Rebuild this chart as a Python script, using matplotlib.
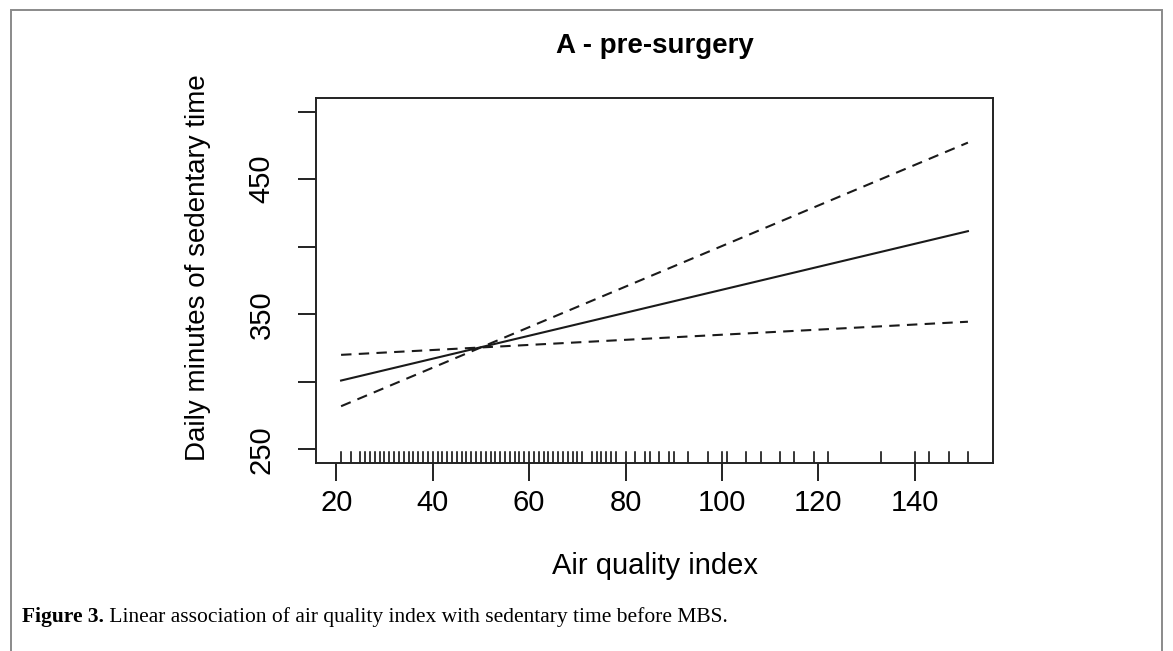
"""Figure 3, panel A: air quality index vs daily sedentary minutes (pre-surgery)."""

import matplotlib
matplotlib.use("Agg")
import matplotlib.pyplot as plt
from matplotlib.patches import Rectangle

plt.rcParams["font.family"] = ["Liberation Sans", "DejaVu Sans"]

# fitted line and confidence bounds at both ends of the AQI range
aqi_ends = [21, 151]
fit_ends = [301.0, 411.5]
bound_flat = [320.0, 344.5]
bound_steep = [282.0, 477.0]

# observed AQI values (rug)
rug_aqi = [21, 23, 25, 26, 27, 28, 29, 30, 31, 32, 33, 34, 35, 36, 37, 38,
           39, 40, 41, 42, 43, 44, 45, 46, 47, 48, 49, 50, 51, 52, 53, 54,
           55, 56, 57, 58, 59, 60, 61, 62, 63, 64, 65, 66, 67, 68, 69, 70,
           71, 73, 74, 75, 76, 77, 78, 80, 82, 84, 85, 87, 89, 90, 93, 97,
           100, 101, 105, 108, 112, 115, 119, 122, 133, 140, 143, 147, 151]

x_ticks = [20, 40, 60, 80, 100, 120, 140]
y_ticks = [250, 300, 350, 400, 450, 500]
y_ticklabels = ["250", "", "350", "", "450", ""]

title = "A - pre-surgery"
x_label = "Air quality index"
y_label = "Daily minutes of sedentary time"
cap_bold = "Figure 3."
cap_text = " Linear association of air quality index with sedentary time before MBS."

W, H = 1173, 651
fig = plt.figure(figsize=(W / 100, H / 100), dpi=100)

# grey frame around the whole figure panel
fig.patches.append(Rectangle((11 / W, -0.05), 1151 / W, 1.05 - 10 / H,
                             transform=fig.transFigure, fill=False,
                             edgecolor="#8a8a8a", linewidth=1.4))

ax = fig.add_axes([316 / W, 1 - 463 / H, (993 - 316) / W, (463 - 98) / H])

line_col = "#1a1a1a"
ax.plot(aqi_ends, fit_ends, color=line_col, linewidth=1.5)
ax.plot(aqi_ends, bound_flat, color=line_col, linewidth=1.5,
        linestyle=(0, (5, 3.5)))
ax.plot(aqi_ends, bound_steep, color=line_col, linewidth=1.5,
        linestyle=(0, (5, 3.5)))

# rug along the bottom (3% of the plot height, like R's rug())
for v in rug_aqi:
    ax.axvline(v, ymin=0, ymax=0.03, color="black", linewidth=1.1)

ax.set_xlim(15.8, 156.2)
ax.set_ylim(240, 510)

ax.set_xticks(x_ticks)
ax.set_yticks(y_ticks)
ax.set_yticklabels(y_ticklabels, rotation=90, va="center")
ax.tick_params(axis="both", direction="out", length=13, width=1.4,
               labelsize=21, color="#222222")
ax.tick_params(axis="x", pad=6)
ax.tick_params(axis="y", pad=16)

for s in ax.spines.values():
    s.set_linewidth(1.4)
    s.set_color("#222222")

ax.set_xlabel(x_label, fontsize=21)
ax.xaxis.set_label_coords(0.5, -0.245)
ax.set_ylabel(y_label, fontsize=20)
ax.yaxis.set_label_coords(-0.155, 0.535)

fig.text((316 + 993) / 2 / W, 1 - 46 / H, title, ha="center", va="center",
         fontsize=20, fontweight="bold")

# caption: bold lead-in followed by regular text
cap_y = 1 - 617 / H
t1 = fig.text(22 / W, cap_y, cap_bold, ha="left", va="center",
              fontsize=15.5, fontweight="bold", family="Liberation Serif")
fig.canvas.draw()
bb = t1.get_window_extent()
fig.text(bb.x1 / W, cap_y, cap_text, ha="left", va="center",
         fontsize=15.5, family="Liberation Serif")

fig.savefig("out.png", dpi=100)
